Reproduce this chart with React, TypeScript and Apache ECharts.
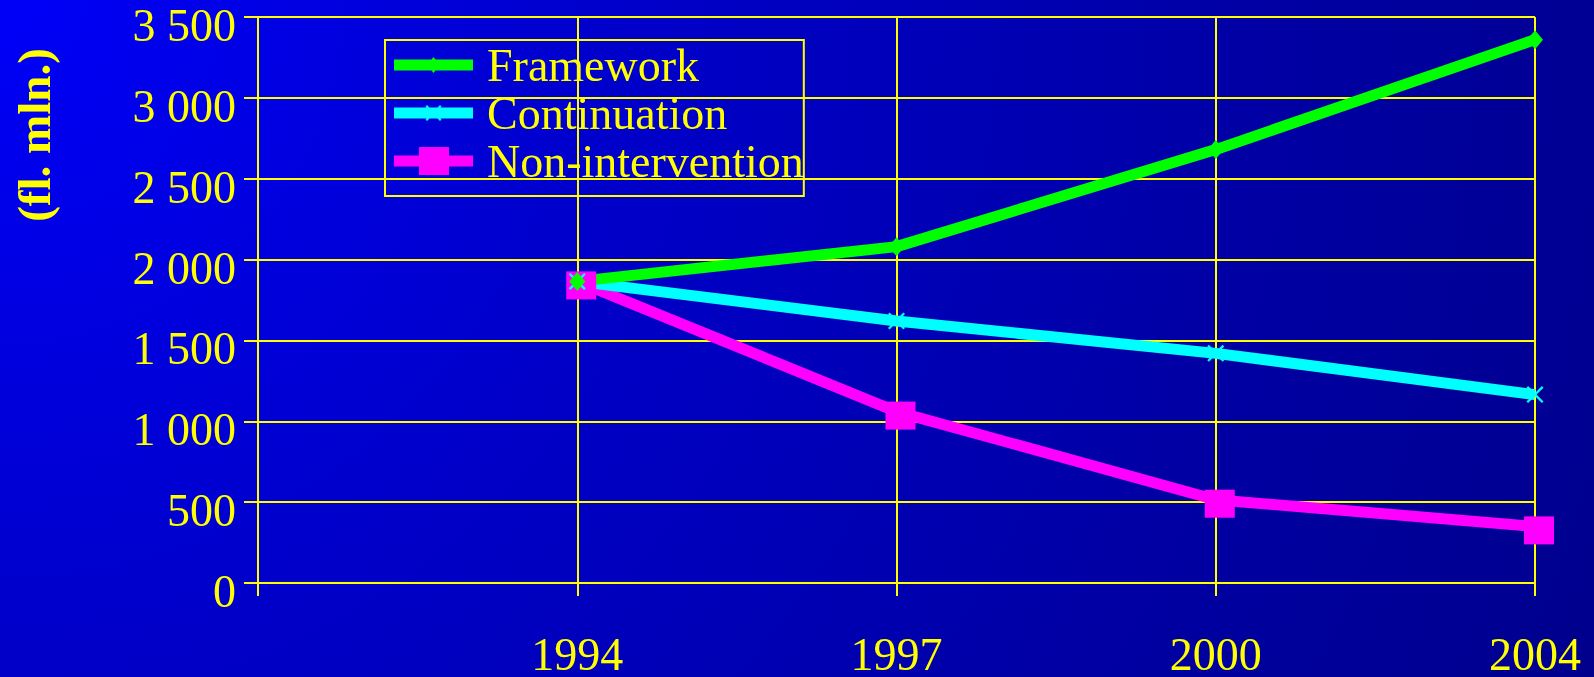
import React, { useEffect, useRef } from "react";
import * as echarts from "echarts";

const years = ["", "1994", "1997", "2000", "2004"];
const framework = [null, 1865, 2080, 2680, 3360];
const continuation = [null, 1865, 1620, 1420, 1165];
const nonIntervention = [null, 1865, 1060, 515, 350];
const yMin = 0;
const yMax = 3500;
const yStep = 500;
const yAxisTitle = "(fl. mln.)";
const seriesNames = ["Framework", "Continuation", "Non-intervention"];

const YELLOW = "#FFFF00";
const FONT = "'Liberation Serif', 'Times New Roman', serif";

const crossSymbol =
  "path://M0 1.5 L1.5 0 L8 6.5 L14.5 0 L16 1.5 L9.5 8 L16 14.5 L14.5 16 L8 9.5 L1.5 16 L0 14.5 L6.5 8 Z";

const iconFramework =
  "path://M0 0Z M79 30Z M0 9.5 L79 9.5 L79 20.5 L0 20.5 Z M33 15 L39.5 7 L46 15 L39.5 23 Z";
const iconContinuation =
  "path://M0 0Z M79 30Z M0 9.5 L79 9.5 L79 20.5 L0 20.5 Z M31.5 8.5 L33 7 L39.5 13.5 L46 7 L47.5 8.5 L41 15 L47.5 21.5 L46 23 L39.5 16.5 L33 23 L31.5 21.5 L38 15 Z";
const iconNonInt =
  "path://M0 0Z M79 30Z M0 9.5 L79 9.5 L79 20.5 L0 20.5 Z M25 1 L55 1 L55 29 L25 29 Z";

function fmt(v: number): string {
  if (v >= 1000) {
    return `${Math.floor(v / 1000)} ${String(v % 1000).padStart(3, "0")}`;
  }
  return String(v);
}

export default function App() {
  const ref = useRef<HTMLDivElement>(null);

  useEffect(() => {
    if (!ref.current) return;
    const chart = echarts.init(ref.current, undefined, { renderer: "svg" });
    const axisLine = { show: true, lineStyle: { color: YELLOW, width: 2 } };
    const legendText = {
      color: YELLOW,
      fontSize: 46,
      fontFamily: FONT,
      lineHeight: 46,
      padding: [0, 0, 0, 9],
    };
    chart.setOption({
      animation: false,
      textStyle: { fontFamily: FONT },
      grid: {
        left: 258,
        right: 59,
        top: 17,
        bottom: 94,
        containLabel: false,
        outerBoundsMode: "none",
      },
      legend: {
        orient: "vertical",
        left: 385,
        top: 40,
        padding: [2, 0, 12, 9],
        borderColor: YELLOW,
        borderWidth: 2,
        itemWidth: 79,
        itemHeight: 30,
        itemGap: 2,
        itemStyle: { borderWidth: 0 },
        textStyle: legendText,
        data: [
          { name: seriesNames[0], icon: iconFramework },
          {
            name: seriesNames[1],
            icon: iconContinuation,
            textStyle: { ...legendText, lineHeight: 32, padding: [14, 0, 0, 9] },
          },
          { name: seriesNames[2], icon: iconNonInt },
        ],
      },
      xAxis: {
        type: "category",
        data: years,
        boundaryGap: false,
        axisLine,
        axisTick: {
          show: true,
          interval: 0,
          length: 13,
          lineStyle: { color: YELLOW, width: 2 },
        },
        splitLine: {
          show: true,
          interval: 0,
          lineStyle: { color: YELLOW, width: 2 },
        },
        axisLabel: {
          interval: 0,
          margin: 48,
          color: YELLOW,
          fontSize: 46,
          fontFamily: FONT,
        },
      },
      yAxis: {
        type: "value",
        min: yMin,
        max: yMax,
        interval: yStep,
        axisLine,
        axisTick: {
          show: true,
          length: 14,
          lineStyle: { color: YELLOW, width: 2 },
        },
        splitLine: { show: true, lineStyle: { color: YELLOW, width: 2 } },
        axisLabel: {
          margin: 22,
          color: YELLOW,
          fontSize: 46,
          fontFamily: FONT,
          verticalAlign: "top",
          lineHeight: 17,
          formatter: (v: number) => fmt(v),
        },
      },
      graphic: [
        {
          type: "text",
          x: 34,
          y: 135,
          rotation: Math.PI / 2,
          style: {
            text: yAxisTitle,
            fill: YELLOW,
            font: `bold 47px ${FONT}`,
            textAlign: "center",
            textVerticalAlign: "middle",
          },
        },
      ],
      series: [
        {
          name: seriesNames[2],
          type: "line",
          data: nonIntervention,
          color: "#FF00FF",
          symbol: "rect",
          symbolSize: [30, 28],
          symbolOffset: [4, 4],
          showSymbol: true,
          lineStyle: { width: 11, color: "#FF00FF" },
          itemStyle: { color: "#FF00FF", borderWidth: 0 },
        },
        {
          name: seriesNames[1],
          type: "line",
          data: continuation,
          color: "#00FFFF",
          symbol: crossSymbol,
          symbolSize: 17,
          showSymbol: true,
          lineStyle: { width: 11, color: "#00FFFF" },
          itemStyle: { color: "#00FFFF", borderWidth: 0 },
        },
        {
          name: seriesNames[0],
          type: "line",
          data: framework,
          color: "#00FF00",
          symbol: "diamond",
          symbolSize: [16, 19],
          showSymbol: true,
          lineStyle: { width: 11, color: "#00FF00" },
          itemStyle: { color: "#00FF00", borderWidth: 0 },
        },
      ],
    });
    return () => chart.dispose();
  }, []);

  return (
    <div
      ref={ref}
      style={{
        position: "fixed",
        left: 0,
        top: 0,
        width: 1594,
        height: 677,
        background:
          "radial-gradient(circle 1750px at 0 0, #0000F8 0%, #0000C8 38%, #0000A4 72%, #00008C 100%)",
      }}
    />
  );
}
